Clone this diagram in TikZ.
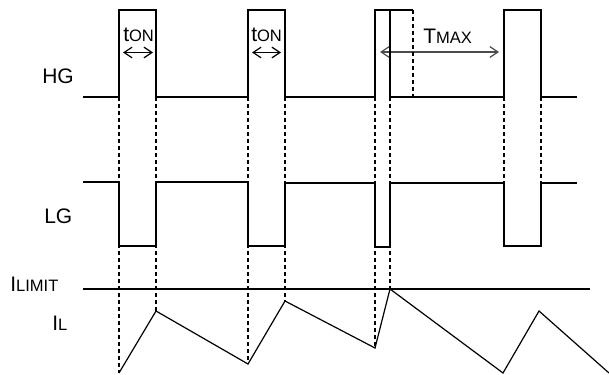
\documentclass[tikz,border=0pt]{standalone}
\usepackage{fontspec}
\setmainfont{Liberation Sans}
\usetikzlibrary{arrows.meta}
\newcommand{\bigf}{\fontsize{15.75}{18}\selectfont}
\newcommand{\smallf}{\fontsize{12.4}{14}\selectfont}
\begin{document}
\begin{tikzpicture}[x=0.75pt,y=-0.75pt,
  wave/.style={line width=0.9pt,black,line join=miter},
  guide/.style={line width=0.9pt,black,dash pattern=on 3pt off 2.25pt},
  lbl/.style={inner sep=0pt,anchor=base west,font=\bigf},
  span/.style={line width=0.9pt,{Straight Barb[length=6pt,width=8pt]}-{Straight Barb[length=6pt,width=8pt]}},
]
\useasboundingbox (0,0) rectangle (609,374);
% labels
\node[lbl] (hg) at (42,83.3) {HG};
\node[lbl] (lg) at (44,223) {LG};
\node[lbl] (ilim) at (10,291) {I{\smallf LIMIT}};
\node[lbl] (il) at (52,330) {I{\smallf L}};
\node[lbl] (ton1) at (123,41.7) {t{\smallf ON}};
\node[lbl] (ton2) at (251,41.7) {t{\smallf ON}};
\node[lbl] (tmax) at (423,43.3) {T{\smallf MAX}};
% arrows
\coordinate (a1) at (123,52.5); \coordinate (b1) at (153,52.5);
\coordinate (a2) at (252,52.5); \coordinate (b2) at (281,52.5);
\coordinate (a3) at (380,52); \coordinate (b3) at (499,52);
\draw[span] (a1) -- (b1);
\draw[span] (a2) -- (b2);
\draw[span,draw=black!70] (a3) -- (b3);
% HG waveform
\draw[wave] (83,97) -- (119,97) -- (119,10) -- (156,10) -- (156,97) -- (248,97) -- (248,10) -- (285,10) -- (285,97) -- (375,97) -- (375,10) -- (413,10);
\draw[wave] (390,10) -- (390,97) -- (504,97) -- (504,10) -- (541,10) -- (541,97) -- (577,97);
\draw[guide] (413,10) -- (413,97);
% LG waveform
\draw[wave] (83,182) -- (119,182) -- (119,246) -- (156,246) -- (156,182) -- (248,182) -- (248,246) -- (285,246) -- (285,183) -- (375,183) -- (375,247) -- (390,247) -- (390,183) -- (504,183) -- (504,246) -- (541,246) -- (541,183) -- (577,183);
% ILIMIT
\draw[wave] (83,289) -- (590,289);
% IL
\coordinate (p1) at (119,373);
\coordinate (p2) at (156,311);
\coordinate (p3) at (248,364);
\coordinate (p4) at (285,301);
\coordinate (p5) at (375,348);
\coordinate (p6) at (390,289);
\coordinate (p7) at (503,373);
\coordinate (p8) at (539,311);
\coordinate (p9) at (609,373);
\draw[wave] (p1) -- (p2) -- (p3) -- (p4) -- (p5) -- (p6) -- (p7) -- (p8) -- (p9);
% guides
\draw[guide] (119,97) -- (p1);
\draw[guide] (156,97) -- (p2);
\draw[guide] (248,97) -- (p3);
\draw[guide] (285,97) -- (p4);
\draw[guide] (375,97) -- (p5);
\draw[guide] (390,97) -- (p6);
\draw[guide] (504,97) -- (504,183);
\draw[guide] (541,97) -- (541,183);
\end{tikzpicture}
\end{document}
